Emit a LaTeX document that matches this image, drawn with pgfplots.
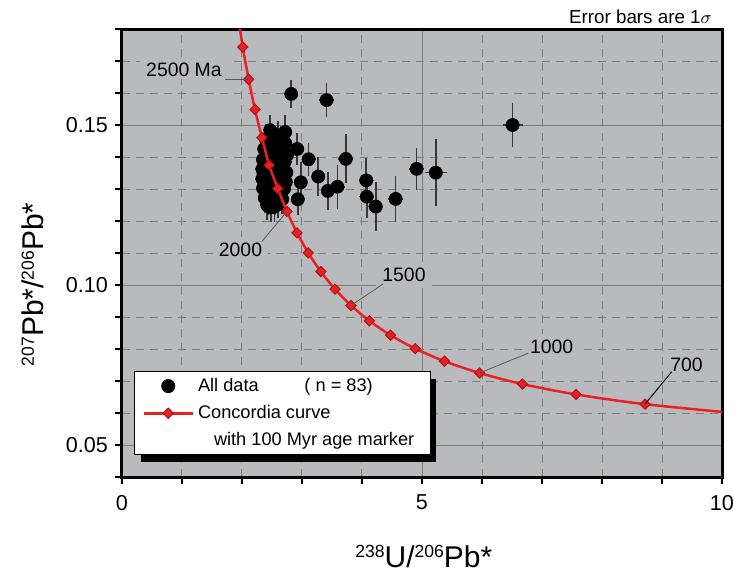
\documentclass[border=0pt]{standalone}
\usepackage{fontspec}
\setmainfont{Liberation Sans}
\usepackage{pgfplots}
\pgfplotsset{compat=1.18}
\usetikzlibrary{shadows}

\definecolor{bg}{RGB}{185,186,189}
\definecolor{gridc}{RGB}{125,125,125}
\definecolor{cred}{RGB}{236,32,36}
\definecolor{cdred}{RGB}{170,20,20}
\definecolor{ebc}{RGB}{55,55,55}

\newcommand{\sups}[1]{\raisebox{5pt}{\fontsize{8.8}{9}\selectfont #1}}
% legend images must not pick up the legend's drop shadow
\makeatletter
\tikzset{nopre/.code={\let\tikz@preactions\pgfutil@empty}}
\makeatother
\pgfplotsset{mylegend/.style={legend image code/.code={\draw[mark repeat=2,mark phase=2,##1,nopre] plot coordinates {(0pt,0pt) (12.25pt,0pt) (24.5pt,0pt)};}}}
\newcommand{\lstrut}{\rule[-1.5pt]{0pt}{8pt}}

\begin{document}
\begin{tikzpicture}
\begin{axis}[
    scale only axis,
    width=300pt, height=224pt,
    xmin=0, xmax=10,
    ymin=0.04, ymax=0.18,
    xtick={0,5,10},
    minor xtick={1,2,3,4,6,7,8,9},
    ytick={0.05,0.10,0.15},
    minor ytick={0.04,0.06,0.07,0.08,0.09,0.11,0.12,0.13,0.14,0.16,0.17,0.18},
    tick pos=left,
    tick align=outside,
    major tick length=3.5pt,
    minor tick length=3.5pt,
    tick style={black, line width=1pt},
    axis line style={line width=1.5pt},
    axis background/.style={fill=bg},
    grid=both,
    major grid style={solid, gridc, line width=0.5pt},
    minor grid style={dash pattern=on 4pt off 3pt, gridc, line width=0.5pt},
    clip marker paths=true,
    /pgf/number format/assume math mode=true,
    yticklabel style={/pgf/number format/.cd, fixed, fixed zerofill, precision=2},
    tick label style={font=\fontsize{10.8}{12}\selectfont},
    xticklabel style={yshift=-2pt},
    xlabel={\sups{238}U/\sups{206}Pb*},
    ylabel={\sups{207}Pb*/\sups{206}Pb*},
    label style={font=\fontsize{15}{17}\selectfont},
    xlabel style={at={(rel axis cs:0.503,-0.202)}, anchor=base},
    ylabel style={at={(rel axis cs:-0.13,0.43)}, anchor=base},
    legend style={
        at={(rel axis cs:0.02,0.049)}, anchor=south west,
        draw=black, line width=0.5pt, fill=white,
        drop shadow={shadow xshift=3pt, shadow yshift=-3.5pt, fill=black, opacity=1},
        font=\fontsize{9.1}{10}\selectfont,
        inner xsep=4pt, inner ysep=1pt, row sep=1.5pt,
        cells={anchor=west},
    },
]

% U-Pb analyses, 1 sigma errors
\addplot[only marks, mark=*, mark size=3.25pt,
    mark options={fill=black, draw=black},
    mylegend,
    error bars/.cd,
        x dir=both, x explicit,
        y dir=both, y explicit,
        error bar style={line width=0.75pt, ebc},
        error mark options={line width=0.75pt, ebc, mark size=2pt},
] table[x=x, y=y, x error=ex, y error=ey] {
x     y       ex    ey
2.82  0.1597  0.05  0.0031
3.41  0.1578  0.06  0.0041
2.92  0.1425  0.05  0.0036
3.11  0.1393  0.05  0.0039
3.27  0.1339  0.05  0.0047
3.43  0.1294  0.05  0.0046
3.59  0.1307  0.06  0.0057
3.73  0.1394  0.06  0.0064
4.07  0.1327  0.06  0.0057
4.08  0.1276  0.06  0.0055
4.23  0.1245  0.06  0.0064
4.56  0.1269  0.06  0.0060
4.91  0.1363  0.06  0.0054
5.23  0.1351  0.12  0.0093
6.51  0.1500  0.10  0.0057
2.98  0.1321  0.05  0.0050
2.93  0.1268  0.05  0.0036
2.47  0.1484  0.05  0.0034
2.72  0.1478  0.05  0.0040
2.60  0.1468  0.05  0.0032
2.40  0.1455  0.05  0.0035
2.52  0.1452  0.05  0.0033
2.64  0.1448  0.05  0.0036
2.72  0.1443  0.05  0.0031
2.46  0.1446  0.05  0.0030
2.37  0.1425  0.05  0.0034
2.43  0.1420  0.05  0.0031
2.50  0.1428  0.05  0.0033
2.56  0.1418  0.05  0.0030
2.62  0.1425  0.05  0.0035
2.68  0.1415  0.05  0.0032
2.75  0.1406  0.05  0.0036
2.35  0.1392  0.05  0.0033
2.41  0.1398  0.05  0.0030
2.47  0.1388  0.05  0.0034
2.53  0.1395  0.05  0.0031
2.59  0.1386  0.05  0.0033
2.65  0.1392  0.05  0.0030
2.71  0.1384  0.05  0.0035
2.34  0.1362  0.05  0.0036
2.39  0.1358  0.05  0.0031
2.45  0.1365  0.05  0.0033
2.51  0.1356  0.05  0.0030
2.57  0.1362  0.05  0.0034
2.63  0.1355  0.05  0.0032
2.68  0.1360  0.05  0.0030
2.74  0.1352  0.05  0.0035
2.34  0.1332  0.05  0.0034
2.39  0.1325  0.05  0.0031
2.44  0.1335  0.05  0.0033
2.50  0.1328  0.05  0.0030
2.56  0.1333  0.05  0.0032
2.62  0.1326  0.05  0.0034
2.68  0.1330  0.05  0.0031
2.73  0.1322  0.05  0.0036
2.35  0.1302  0.05  0.0035
2.41  0.1296  0.05  0.0032
2.47  0.1304  0.05  0.0030
2.53  0.1298  0.05  0.0034
2.59  0.1302  0.05  0.0031
2.64  0.1295  0.05  0.0033
2.70  0.1300  0.05  0.0035
2.38  0.1272  0.05  0.0036
2.43  0.1265  0.05  0.0033
2.49  0.1270  0.05  0.0031
2.55  0.1266  0.05  0.0034
2.61  0.1272  0.05  0.0030
2.67  0.1268  0.05  0.0033
2.42  0.1250  0.05  0.0035
2.48  0.1242  0.05  0.0032
2.54  0.1245  0.05  0.0036
2.60  0.1252  0.05  0.0030
2.48  0.1410  0.05  0.0032
2.60  0.1440  0.05  0.0031
2.42  0.1375  0.05  0.0034
2.55  0.1372  0.05  0.0030
2.67  0.1375  0.05  0.0033
2.36  0.1345  0.05  0.0031
2.48  0.1345  0.05  0.0035
2.60  0.1348  0.05  0.0030
2.45  0.1282  0.05  0.0033
2.58  0.1285  0.05  0.0031
2.66  0.1340  0.05  0.0034
};
\addlegendentry{All data\hspace{22.9pt}( n = 83)\lstrut}

% concordia, one point every 100 Myr from 2700 Ma down to 600 Ma
\addplot[cred, line width=1.25pt, smooth,
    mark=square*, mark size=1.8pt,
    mark options={rotate=45, fill=cred, draw=cdred, line width=0.5pt, solid},
    mylegend,
] coordinates {
    (1.92236,0.185201) (2.01291,0.174367) (2.11079,0.164262) (2.21696,0.154833)
    (2.33246,0.146034) (2.45254,0.137482) (2.59682,0.130151) (2.74902,0.122986)
    (2.91738,0.116293) (3.10458,0.110036) (3.31396,0.104187) (3.54969,0.098716)
    (3.81698,0.093597) (4.12267,0.088807) (4.47558,0.084323) (4.88752,0.080123)
    (5.37460,0.076187) (5.95930,0.072500) (6.67430,0.069042) (7.56840,0.065799)
    (8.71822,0.062756) (10.2518,0.059901)
};
\addlegendentry{Concordia curve\lstrut}
\addlegendimage{empty legend}
\addlegendentry{\hspace*{8pt}with 100 Myr age marker\hspace*{2pt}\lstrut}

% age labels
\tikzset{lab/.style={fill=bg, inner xsep=3pt, inner ysep=3pt, font=\fontsize{9.7}{11}\selectfont},
         leader/.style={line width=0.4pt, black!65}}
\node[lab, inner ysep=1pt] at (axis cs:1.033,0.1672) {2500 Ma};
\node[lab] at (axis cs:1.975,0.1109) {2000};
\node[lab] at (axis cs:4.70,0.1031) {1500};
\node[lab] at (axis cs:7.16,0.0806) {1000};
\node[lab] at (axis cs:9.41,0.0752) {700};
\draw[leader] (axis cs:1.717,0.16426) -- (axis cs:2.111,0.16426);
\draw[leader] (axis cs:2.328,0.1135) -- (axis cs:2.749,0.1230);
\draw[leader] (axis cs:4.35,0.1003) -- (axis cs:3.817,0.0936);
\draw[leader] (axis cs:6.772,0.0787) -- (axis cs:5.959,0.0725);
\draw[line width=0.5pt, black] (axis cs:9.162,0.0729) -- (axis cs:8.718,0.0628);
\end{axis}
\node[anchor=base east, font=\fontsize{9.4}{11}\selectfont]
    at ([xshift=-1.5pt, yshift=3pt]current axis.north east) {Error bars are 1$\sigma$};
\pgfresetboundingbox
\path[use as bounding box] ([xshift=-61pt,yshift=-48.5pt]current axis.south west)
    rectangle ([xshift=6pt,yshift=14.5pt]current axis.north east);
\end{tikzpicture}
\end{document}
